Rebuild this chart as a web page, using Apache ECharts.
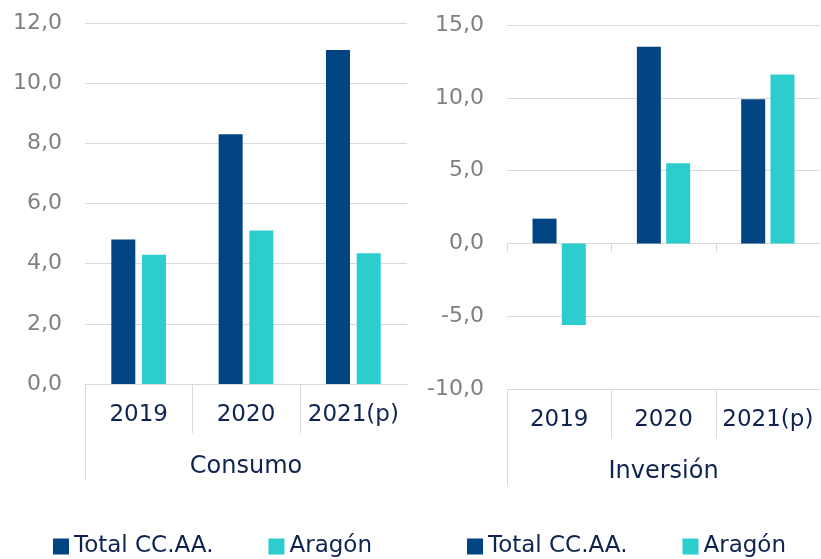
<!DOCTYPE html>
<html>
<head>
<meta charset="UTF-8">
<title>Consumo e Inversión</title>
<script src="https://cdn.jsdelivr.net/npm/echarts@6/dist/echarts.min.js"></script>
<style>
  html, body { margin: 0; padding: 0; background: #fff; }
  #chart { width: 821px; height: 559px; }
</style>
</head>
<body>
<div id="chart"></div>
<script>
// datos
var years = ['2019', '2020', '2021(p)'];
var groups = ['Consumo', 'Inversión'];
var seriesNames = ['Total CC.AA.', 'Aragón'];
var consumoTotal = [4.8, 8.3, 11.1];
var consumoAragon = [4.3, 5.1, 4.35];
var inversionTotal = [1.7, 13.5, 9.9];
var inversionAragon = [-5.6, 5.5, 11.6];
var consumoAxis = [0, 12, 2];     // min, max, intervalo
var inversionAxis = [-10, 15, 5];

var NAVY = '#004481', AQUA = '#2DCCCD';
var GRID = '#d9d9d9', GREY = '#808080', TEXT = '#0e2350';
var FONT = 'DejaVu Sans';

var chart = echarts.init(document.getElementById('chart'));

function fmt(v) { return v.toFixed(1).replace('.', ','); }

function xAxisFor(idx) {
  return {
    type: 'category',
    gridIndex: idx,
    data: years,
    name: groups[idx],
    nameLocation: 'middle',
    nameGap: 71,
    nameTextStyle: { color: TEXT, fontFamily: FONT, fontSize: 24 },
    axisLine: { onZero: false, lineStyle: { color: GRID, width: 1 } },
    axisTick: { show: false },
    axisLabel: { interval: 0, hideOverlap: false, color: TEXT, fontFamily: FONT, fontSize: 23, margin: 20 }
  };
}

function yAxisFor(idx, ax) {
  return {
    type: 'value',
    gridIndex: idx,
    min: ax[0], max: ax[1], interval: ax[2],
    axisLine: { show: false },
    axisTick: { show: false },
    splitLine: { lineStyle: { color: GRID, width: 1 } },
    axisLabel: { color: GREY, fontFamily: FONT, fontSize: 22, margin: 23, formatter: fmt }
  };
}

function barSeries(name, color, data, idx, gap) {
  return {
    name: name,
    type: 'bar',
    xAxisIndex: idx,
    yAxisIndex: idx,
    data: data,
    barWidth: 24,
    barGap: gap,
    itemStyle: { color: color },
    emphasis: { disabled: true }
  };
}

function legendAt(left) {
  return {
    data: seriesNames,
    left: left,
    top: 530,
    icon: 'rect',
    itemWidth: 16,
    itemHeight: 16,
    itemGap: 55,
    textStyle: { color: TEXT, fontFamily: FONT, fontSize: 23 }
  };
}

var option = {
  animation: false,
  color: [NAVY, AQUA],
  grid: [
    { left: 85, top: 23, width: 322, height: 361 },
    { left: 507, top: 25, width: 313, height: 364 }
  ],
  xAxis: [xAxisFor(0), xAxisFor(1)],
  yAxis: [yAxisFor(0, consumoAxis), yAxisFor(1, inversionAxis)],
  legend: [legendAt(48), legendAt(462)],
  series: [
    barSeries(seriesNames[0], NAVY, consumoTotal, 0, '28%'),
    barSeries(seriesNames[1], AQUA, consumoAragon, 0, '28%'),
    barSeries(seriesNames[0], NAVY, inversionTotal, 1, '22%'),
    barSeries(seriesNames[1], AQUA, inversionAragon, 1, '22%')
  ]
};
chart.setOption(option);

// separadores de categorías (eje multinivel)
function vline(x, y1, y2) {
  return { type: 'line', silent: true,
    shape: { x1: x, y1: y1, x2: x, y2: y2 },
    style: { stroke: GRID, lineWidth: 1 } };
}
var shapes = [];
[consumoAxis, inversionAxis].forEach(function (ax, i) {
  var c0 = chart.convertToPixel({ xAxisIndex: i }, 0);
  var c1 = chart.convertToPixel({ xAxisIndex: i }, 1);
  var band = c1 - c0;
  var yb = chart.convertToPixel({ yAxisIndex: i }, ax[0]);
  var y0 = chart.convertToPixel({ yAxisIndex: i }, 0);
  for (var k = 0; k < years.length; k++) {
    var x = Math.round(c0 - band / 2 + k * band) + 0.5;
    shapes.push(vline(x, yb, yb + (k === 0 ? 96 : 49)));
    if (ax[0] < 0) shapes.push(vline(x, y0, y0 + 9));
  }
});
chart.setOption({ graphic: shapes });
</script>
</body>
</html>
